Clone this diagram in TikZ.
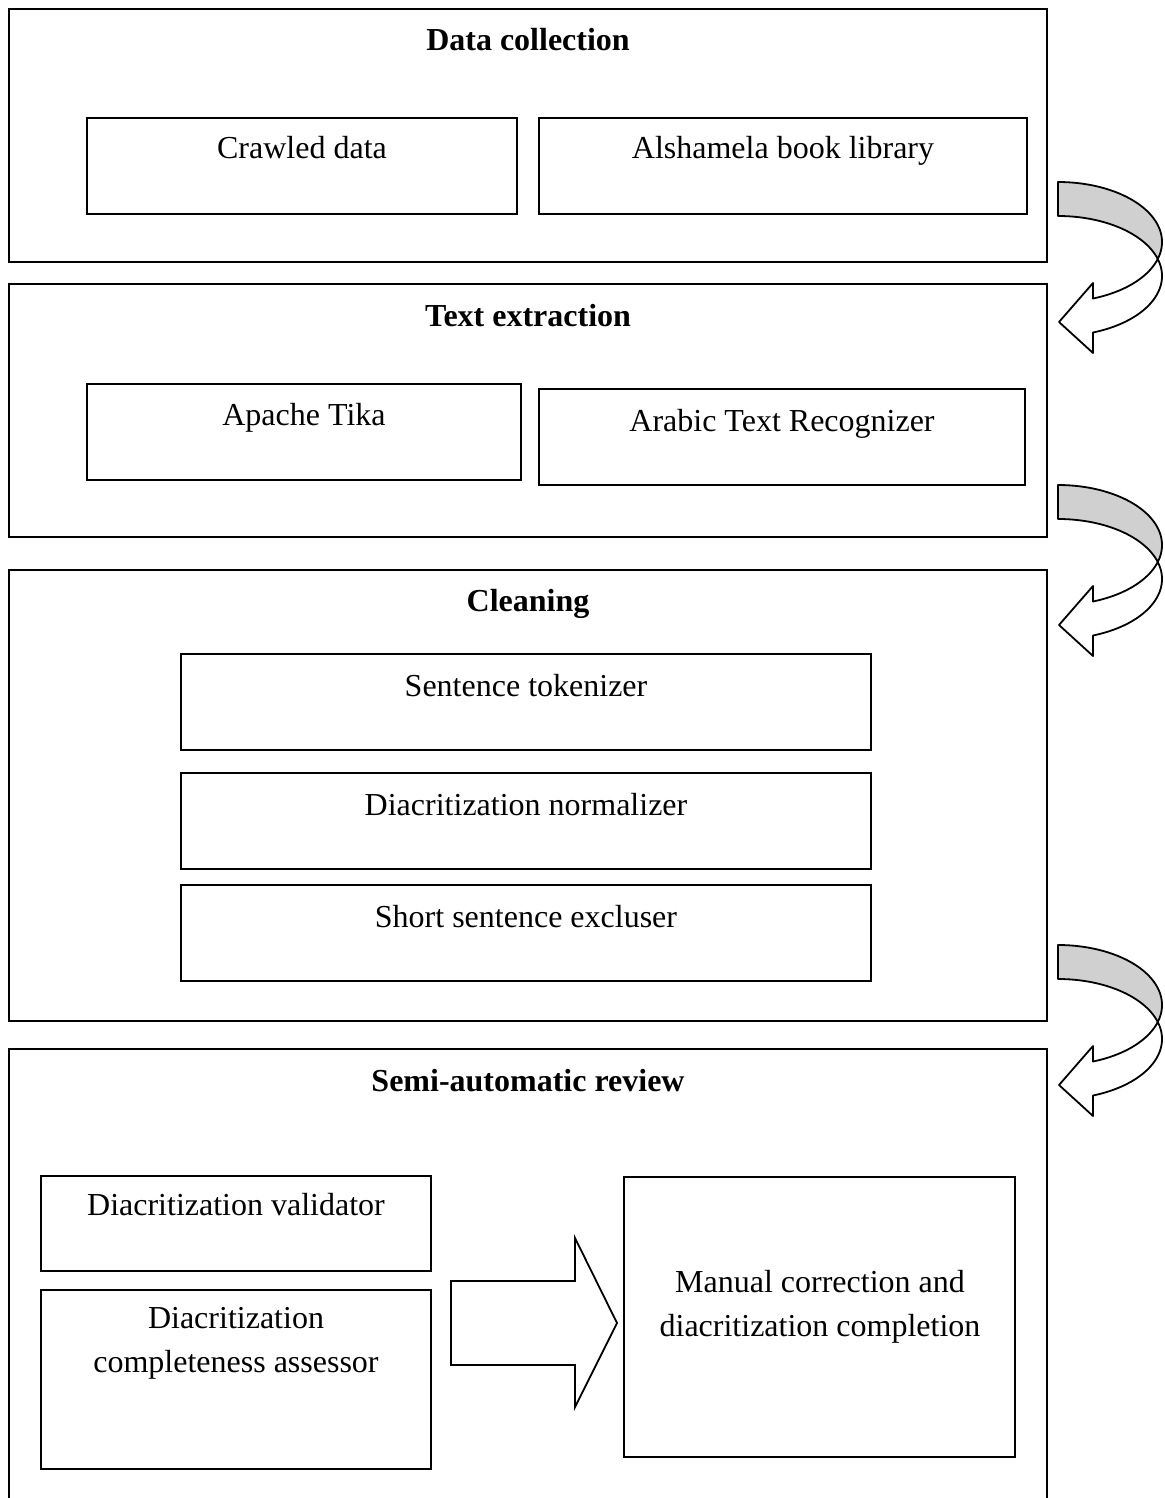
\documentclass[tikz,border=0pt]{standalone}
\usepackage{fontspec}
\setmainfont{Liberation Serif}
\definecolor{arrowgray}{RGB}{208,208,208}
\tikzset{
  frame/.style={draw=black, line width=0.9pt, inner sep=0pt, outer sep=0pt, anchor=north west},
  stagebox/.style={draw=black, line width=0.9pt, inner sep=0pt, outer sep=0pt, anchor=north west},
  lbl/.style={inner sep=0pt, anchor=base, font=\fontsize{16}{22}\selectfont},
  title/.style={lbl, font=\fontsize{16}{22}\selectfont\bfseries},
  turnarrow/.pic={
    % back face of the curved band
    \filldraw[fill=arrowgray, line width=0.9pt, line join=round]
      plot[domain=-90:16.46, samples=50, variable=\t] ({104*cos(\t)}, {60+60*sin(\t)})
      -- plot[domain=-16.46:-90, samples=50, variable=\t] ({104*cos(\t)}, {94+60*sin(\t)})
      -- cycle;
    % front face ending in the arrow head
    \filldraw[fill=white, line width=0.9pt, line join=round]
      plot[domain=16.46:70.33, samples=40, variable=\t] ({104*cos(\t)}, {60+60*sin(\t)})
      -- (35,101) -- (1,140) -- (35,171)
      -- plot[domain=70.33:-16.46, samples=50, variable=\t] ({104*cos(\t)}, {94+60*sin(\t)})
      -- cycle;
  }
}
\begin{document}
\begin{tikzpicture}[x=0.5pt, y=-0.5pt]
\useasboundingbox (0,0) rectangle (1164,1498);

% stage frames
\node[frame, minimum width=519pt, minimum height=126.5pt] (collect) at (9,9) {};
\node[frame, minimum width=519pt, minimum height=126.5pt] (extract) at (9,284) {};
\node[frame, minimum width=519pt, minimum height=225.5pt] (clean) at (9,570) {};
\coordinate (revbl) at (9,1498);
\coordinate (revtl) at (9,1049);
\coordinate (revtr) at (1047,1049);
\coordinate (revbr) at (1047,1498);
\draw[line width=0.9pt] (revbl) -- (revtl) -- (revtr) -- (revbr);

% stage titles
\node[title] (tcollect) at (528,51) {Data collection};
\node[title] (textract) at (528,326) {Text extraction};
\node[title] (tclean) at (528,611) {Cleaning};
\node[title] (treview) at (528,1091) {Semi-automatic review};

% data collection
\node[stagebox, minimum width=215pt, minimum height=48pt] (crawl) at (87,118) {};
\node[lbl] (crawltxt) at (302,159) {Crawled data};
\node[stagebox, minimum width=244pt, minimum height=48pt] (shamela) at (539,118) {};
\node[lbl] (shamelatxt) at (783,159) {Alshamela book library};

% text extraction
\node[stagebox, minimum width=217pt, minimum height=48pt] (tika) at (87,384) {};
\node[lbl] (tikatxt) at (304,425) {Apache Tika};
\node[stagebox, minimum width=243pt, minimum height=48pt] (ocr) at (539,389) {};
\node[lbl] (ocrtxt) at (782,431) {Arabic Text Recognizer};

% cleaning
\node[stagebox, minimum width=345pt, minimum height=48pt] (tok) at (181,654) {};
\node[lbl] (toktxt) at (526,696) {Sentence tokenizer};
\node[stagebox, minimum width=345pt, minimum height=48pt] (norm) at (181,773) {};
\node[lbl] (normtxt) at (526,815) {Diacritization normalizer};
\node[stagebox, minimum width=345pt, minimum height=48pt] (short) at (181,885) {};
\node[lbl] (shorttxt) at (526,927) {Short sentence excluser};

% semi-automatic review
\node[stagebox, minimum width=195pt, minimum height=47.5pt] (valid) at (41,1176) {};
\node[lbl] (validtxt) at (236,1215) {Diacritization validator};
\node[stagebox, minimum width=195pt, minimum height=89.5pt] (complete) at (41,1290) {};
\node[lbl] (completetxt) at (236,1328) {\begin{tabular}[t]{@{}c@{}}Diacritization\\completeness assessor\end{tabular}};
\node[stagebox, minimum width=195.5pt, minimum height=140pt] (manual) at (624,1177) {};
\node[lbl] (manualtxt) at (820,1292) {\begin{tabular}[t]{@{}c@{}}Manual correction and\\diacritization completion\end{tabular}};

% block arrow into manual correction
\filldraw[fill=white, line width=0.9pt]
  (451,1281) -- (575,1281) -- (575,1238) -- (617,1323) -- (575,1407) -- (575,1365) -- (451,1365) -- cycle;

% curved arrows between stages
\pic at (1058,182) {turnarrow};
\pic at (1058,485) {turnarrow};
\pic at (1058,945) {turnarrow};
\end{tikzpicture}
\end{document}
